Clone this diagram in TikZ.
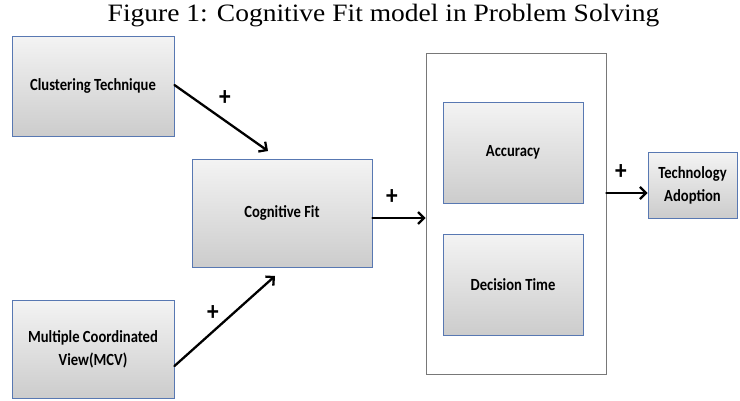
\documentclass[tikz,border=0pt]{standalone}
\usepackage{fontspec}
\setmainfont{Liberation Serif}[FakeStretch=1.1]
\newfontfamily\boxfont{Carlito}[FakeStretch=0.86]
\usetikzlibrary{arrows.meta}
\definecolor{boxedge}{RGB}{88,120,178}
\definecolor{frameedge}{RGB}{120,120,120}
\tikzset{
  varbox/.style={draw=boxedge, line width=0.9pt, top color=gray!9, bottom color=gray!40,
    align=center, font=\boxfont\bfseries\fontsize{17}{23}\selectfont, inner sep=2pt},
  framebox/.style={draw=frameedge, line width=0.7pt, fill=white},
  arr/.style={-{Straight Barb[length=6pt,width=12pt,line width=2.3pt]}, line width=2.3pt, line cap=round},
  sign/.style={font=\boxfont\bfseries\fontsize{27}{27}\selectfont, inner sep=0pt},
}
\begin{document}
\begin{tikzpicture}[x=1pt,y=-1pt]
  \useasboundingbox (0,0) rectangle (740,400);
  % title
  \node[font=\fontsize{25}{25}\selectfont, inner sep=0pt] (title) at (383.5,16) {Figure 1: Cognitive Fit model in Problem Solving};

  % independent variables and mediator
  \node[varbox, minimum width=162pt, minimum height=100pt] (clust) at (93,86) {Clustering Technique};
  \node[varbox, minimum width=162pt, minimum height=98pt] (mcv) at (93,349) {Multiple Coordinated\\View(MCV)};
  \node[varbox, minimum width=180pt, minimum height=108pt] (cog) at (282,213) {Cognitive Fit};

  % outcome group
  \node[framebox, minimum width=180pt, minimum height=321pt] (outer) at (516,213.5) {};
  \node[varbox, minimum width=140pt, minimum height=101pt] (acc) at (513,152.5) {Accuracy};
  \node[varbox, minimum width=140pt, minimum height=101pt] (dec) at (513,284.5) {Decision Time};

  \node[varbox, minimum width=89pt, minimum height=66pt] (tech) at (692.5,185) {Technology\\Adoption};

  % arrow end points short of the Cognitive Fit box
  \coordinate (cogin1) at (268,151);
  \coordinate (cogin2) at (275,276);

  \draw[arr] ([yshift=1pt]clust.east) -- (cogin1);
  \draw[arr] ([yshift=-17pt]mcv.east) -- (cogin2);
  \draw[arr] ([yshift=-5pt]cog.east) -- ([yshift=-5pt]cog.east -| outer.west);
  \draw[arr] ([yshift=-8pt]tech.west -| outer.east) -- ([yshift=-8pt]tech.west);

  % signs
  \node[sign] (p1) at (225,98) {+};
  \node[sign] (p2) at (213,313) {+};
  \node[sign] (p3) at (392,197) {+};
  \node[sign] (p4) at (621,172) {+};
\end{tikzpicture}
\end{document}
